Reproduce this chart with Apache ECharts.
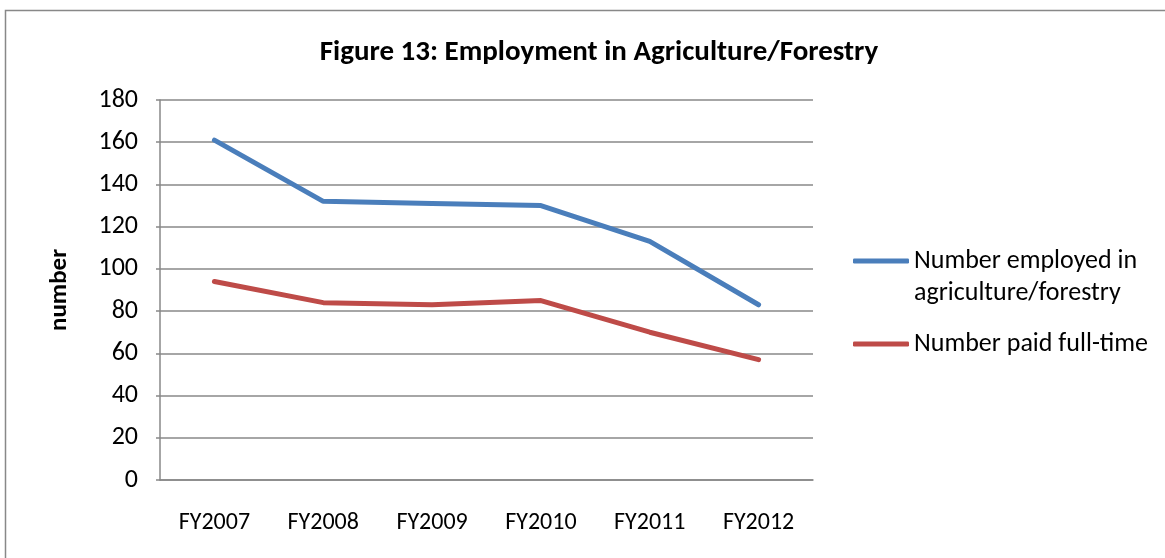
<!DOCTYPE html>
<html><head><meta charset="utf-8">
<script src="https://cdn.jsdelivr.net/npm/echarts@6/dist/echarts.min.js"></script>
<style>html,body{margin:0;padding:0;background:#fff}#c{width:1165px;height:558px}</style>
</head><body><div id="c"></div>
<script>
const categories = ['FY2007','FY2008','FY2009','FY2010','FY2011','FY2012'];
const employed = [161,132,131,130,113,83];
const paidFullTime = [94,84,83,85,70,57];
const yTicks = [0,20,40,60,80,100,120,140,160,180];
const seriesNames = ['Number employed in agriculture/forestry','Number paid full-time'];
const legendLabels = ['Number employed in\nagriculture/forestry','Number paid full-time'];
const titleText = 'Figure 13: Employment in Agriculture/Forestry';
const yName = 'number';

const FONT = 'Carlito, Lato, sans-serif';
const chart = echarts.init(document.getElementById('c'));
chart.setOption({
  animation:false,
  graphic:[{type:'rect',shape:{x:5.5,y:10.5,width:1180,height:560},style:{fill:'none',stroke:'#888',lineWidth:1.5},silent:true}],
  title:{text:titleText,left:594,top:33,textAlign:'center',textStyle:{fontFamily:FONT,fontWeight:'bold',fontSize:29,color:'#000'}},
  grid:{left:160,right:352,top:100,bottom:78},
  legend:[
    {data:[seriesNames[0]],orient:'vertical',left:853,top:213,padding:0,itemWidth:56,itemHeight:5,itemGap:0,icon:'roundRect',
     formatter:()=> '\n'+legendLabels[0],
     textStyle:{fontFamily:FONT,fontSize:26,color:'#000',lineHeight:32}},
    {data:[seriesNames[1]],orient:'vertical',left:853,top:328,padding:0,itemWidth:56,itemHeight:5,icon:'roundRect',
     formatter:()=> legendLabels[1],
     textStyle:{fontFamily:FONT,fontSize:26,color:'#000',lineHeight:32}}
  ],
  xAxis:{type:'category',data:categories,boundaryGap:true,
    axisLine:{lineStyle:{color:'#888',width:1.5}},axisTick:{show:false},
    axisLabel:{fontFamily:FONT,fontSize:24,color:'#000',margin:31}},
  yAxis:{type:'value',min:0,max:180,interval:20,
    name:yName,nameLocation:'middle',nameGap:88,nameTextStyle:{fontFamily:FONT,fontWeight:'bold',fontSize:25,color:'#000'},
    axisLine:{show:true,lineStyle:{color:'#888',width:1.5}},
    axisTick:{show:true,length:4,lineStyle:{color:'#888',width:1.5}},
    splitLine:{lineStyle:{color:'#888',width:1.5}},
    axisLabel:{fontFamily:FONT,fontSize:26,color:'#000',margin:22,
      formatter:v=> yTicks.includes(v)? String(v):''}},
  series:[
    {name:seriesNames[0],type:'line',data:employed,symbol:'none',lineStyle:{color:'#4A7EBB',width:5,cap:'round'},itemStyle:{color:'#4A7EBB'}},
    {name:seriesNames[1],type:'line',data:paidFullTime,symbol:'none',lineStyle:{color:'#BE4B48',width:5,cap:'round'},itemStyle:{color:'#BE4B48'}}
  ]
});
</script></body></html>
